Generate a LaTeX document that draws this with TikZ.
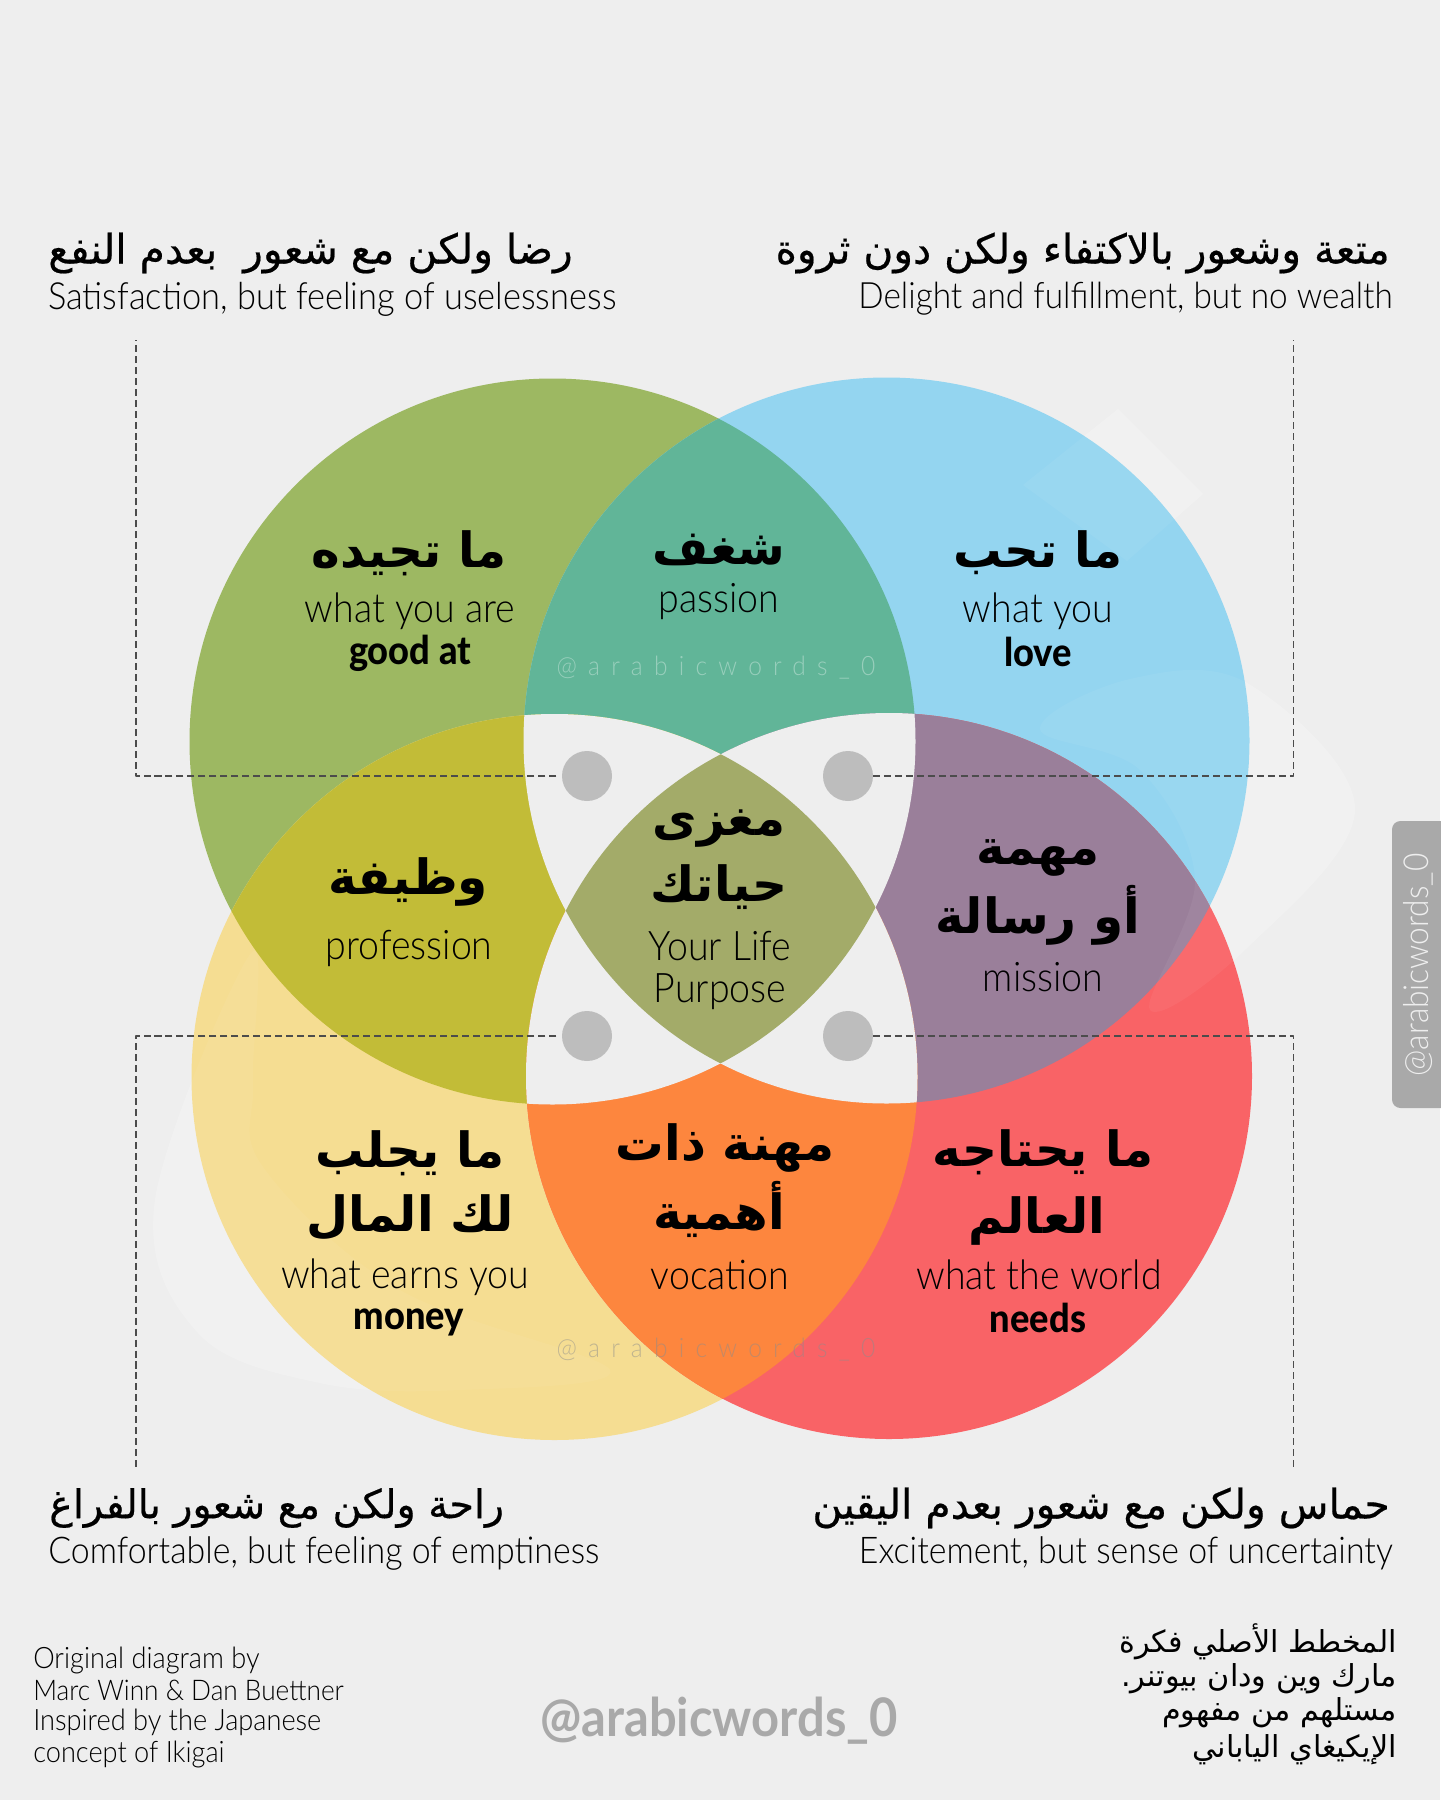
\documentclass[tikz,border=0pt]{standalone}
\usepackage{fontspec}
\setmainfont[FakeStretch=0.92]{Lato Light}
\newfontfamily\latinbold[FakeStretch=0.92]{Lato Heavy}
\newfontfamily\latinmid[FakeStretch=0.92]{Lato Bold}
\newfontfamily\arabicbold[Script=Arabic]{DejaVu Sans Bold}
\newfontfamily\arabicmid[Script=Arabic,FakeBold=0.5]{DejaVu Sans}
\newfontfamily\arabicfont[Script=Arabic]{DejaVu Sans}
\TeXXeTstate=1
\newcommand{\AR}[1]{\beginR #1\endR}
\definecolor{bgcol}{HTML}{EEEEEE}
\definecolor{goodcol}{HTML}{9DB862}
\definecolor{lovecol}{HTML}{94D5F0}
\definecolor{moneycol}{HTML}{F5DD92}
\definecolor{needscol}{HTML}{F96366}
\definecolor{passioncol}{HTML}{61B598}
\definecolor{professioncol}{HTML}{C2BC37}
\definecolor{missioncol}{HTML}{9A7F9A}
\definecolor{vocationcol}{HTML}{FD863E}
\definecolor{purposecol}{HTML}{A3AB69}
\definecolor{dotcol}{HTML}{BDBDBD}
\definecolor{tabcol}{HTML}{A9A9A9}
\newcommand{\good}{(552.5,741.5) circle [radius=363]}
\newcommand{\love}{(886.5,740.5) circle [radius=363]}
\newcommand{\earn}{(554.5,1077) circle [radius=363]}
\newcommand{\needs}{(889,1076) circle [radius=363]}
\newcommand{\paleshapes}[1]{
	\fill[white,fill opacity=#1] (1118,409) -- (1203,494) -- (1127,561) -- (1023,485) -- cycle;
	\fill[white,fill opacity=#1] plot[smooth cycle,tension=0.6] coordinates {(1040,729) (1130,679) (1247,683) (1355,809) (1247,948) (1150,1010) (1195,880) (1140,770)};
	\fill[white,fill opacity=#1] plot[smooth cycle,tension=0.6] coordinates {(251,953) (155,1200) (198,1333) (320,1383) (459,1390) (610,1370) (400,1290) (263,1167) (253,1083)};
}
\tikzset{
	headar/.style={font=\arabicbold\fontsize{34.5}{34.5}\selectfont,inner sep=0pt},
	capar/.style={font=\arabicmid\fontsize{29}{29}\selectfont,inner sep=0pt},
	capen/.style={font=\fontsize{26.6}{26.6}\selectfont,inner sep=0pt},
	labelen/.style={font=\fontsize{29}{29}\selectfont,inner sep=0pt},
	labelbf/.style={font=\latinbold\fontsize{28}{28}\selectfont,inner sep=0pt},
	footen/.style={font=\fontsize{21}{21}\selectfont,inner sep=0pt,anchor=west},
	footar/.style={font=\arabicfont\fontsize{21.5}{21.5}\selectfont,inner sep=0pt,anchor=east},
	stamp/.style={font=\addfontfeature{LetterSpace=42}\fontsize{19}{19}\selectfont,inner sep=0pt},
	dot/.style={circle,fill=dotcol,minimum size=1.25cm,inner sep=0pt,outer sep=4pt},
	leader/.style={dash pattern=on 5pt off 2.8pt,line width=1pt,draw=black!70}
}
\begin{document}
\begin{tikzpicture}[x=0.025cm,y=-0.025cm, line join=round, line cap=butt]
	\useasboundingbox (0,0) rectangle (1440,1800);
	\fill[bgcol] (0,0) rectangle (1440,1800);
	% pale calligraphy behind
	\paleshapes{0.22}
	% the four circles
	\fill[goodcol] \good;
	\fill[lovecol] \love;
	\fill[moneycol] \earn;
	\fill[needscol] \needs;
	% overlaps of two
	\begin{scope}
		\clip \good;
		\fill[passioncol] \love;
		\fill[professioncol] \earn;
	\end{scope}
	\begin{scope}
		\clip \needs;
		\fill[missioncol] \love;
		\fill[vocationcol] \earn;
	\end{scope}
	% calligraphy showing through
	\paleshapes{0.05}
	% overlaps of three
	\begin{scope}
		\clip \good;
		\clip \love;
		\fill[bgcol] \earn;
		\fill[bgcol] \needs;
	\end{scope}
	\begin{scope}
		\clip \needs;
		\clip \earn;
		\fill[bgcol] \good;
		\fill[bgcol] \love;
	\end{scope}
	% middle
	\begin{scope}
		\clip \good;
		\clip \love;
		\clip \earn;
		\fill[purposecol] \needs;
	\end{scope}
	% dots and leaders
	\node[dot] (dotTL) at (587,776) {};
	\node[dot,outer sep=0pt] (dotTR) at (848,776) {};
	\node[dot] (dotBL) at (587,1036) {};
	\node[dot,outer sep=0pt] (dotBR) at (848,1036) {};
	\coordinate (endTL) at (136,340);
	\coordinate (endTR) at (1293.5,340);
	\coordinate (endBL) at (136,1470);
	\coordinate (endBR) at (1293.5,1470);
	\draw[leader] (dotTL) -| (endTL);
	\draw[leader] (dotTR) -| (endTR);
	\draw[leader] (dotBL) -| (endBL);
	\draw[leader] (dotBR) -| (endBR);
	% corner captions
	\node[capar,anchor=west] (capTLar) at (48,253) {\AR{رضا ولكن مع شعور \ بعدم النفع}};
	\node[capen,anchor=west] (capTLen) at (48,299) {Satisfaction, but feeling of uselessness};
	\node[capar,anchor=east] (capTRar) at (1390,253) {\AR{متعة وشعور بالاكتفاء ولكن دون ثروة}};
	\node[capen,anchor=east,scale=0.97] (capTRen) at (1393,299) {Delight and fulfillment, but no wealth};
	\node[capar,anchor=west,scale=0.97] (capBLar) at (49,1508) {\AR{راحة ولكن مع شعور بالفراغ}};
	\node[capen,anchor=west,scale=0.985] (capBLen) at (48,1553) {Comfortable, but feeling of emptiness};
	\node[capar,anchor=east] (capBRar) at (1390,1508) {\AR{حماس ولكن مع شعور بعدم اليقين}};
	\node[capen,anchor=east,scale=0.985] (capBRen) at (1393,1553) {Excitement, but sense of uncertainty};
	% labels of the circles
	\node[headar] (goodar) at (409,553) {\AR{ما تجيده}};
	\node[labelen] (gooden) at (410,611) {what you are};
	\node[labelbf] (goodbf) at (410,653) {good at};
	\node[headar] (lovear) at (1038,553) {\AR{ما تحب}};
	\node[labelen] (loveen) at (1038,611) {what you};
	\node[labelbf] (lovebf) at (1038,652) {love};
	\node[headar] (earnara) at (410,1153) {\AR{ما يجلب}};
	\node[headar] (earnarb) at (410,1217) {\AR{لك المال}};
	\node[labelen] (earnen) at (405,1277) {what earns you};
	\node[labelbf] (earnbf) at (409,1322) {money};
	\node[headar] (needsara) at (1043,1152) {\AR{ما يحتاجه}};
	\node[headar] (needsarb) at (1037,1221) {\AR{العالم}};
	\node[labelen] (needsen) at (1039,1275) {what the world};
	\node[labelbf] (needsbf) at (1038,1318) {needs};
	% labels of the overlaps
	\node[headar] (passionar) at (719,550) {\AR{شغف}};
	\node[labelen] (passionen) at (719,602) {passion};
	\node[headar] (profar) at (408,882) {\AR{وظيفة}};
	\node[labelen] (profen) at (409,948) {profession};
	\node[headar] (missionara) at (1038,858) {\AR{مهمة}};
	\node[headar] (missionarb) at (1038,915) {\AR{أو رسالة}};
	\node[labelen] (missionen) at (1043,977) {mission};
	\node[headar] (vocara) at (725,1148) {\AR{مهنة ذات}};
	\node[headar] (vocarb) at (719,1209) {\AR{أهمية}};
	\node[labelen] (vocen) at (720,1275) {vocation};
	\node[headar] (purposeara) at (719,829) {\AR{مغزى}};
	\node[headar] (purposearb) at (719,887) {\AR{حياتك}};
	\node[labelen] (purposeena) at (720,946) {Your Life};
	\node[labelen] (purposeenb) at (720,992) {Purpose};
	% name stamps
	\node[stamp,text=white,text opacity=0.35] (stampA) at (716,668) {@arabicwords\_0};
	\node[stamp,text=black!45,text opacity=0.5] (stampB) at (716,1350) {@arabicwords\_0};
	\node[font=\latinmid\fontsize{37.8}{37.8}\selectfont,text=tabcol,inner sep=0pt] (stampC) at (719,1721) {@arabicwords\_0};
	\fill[tabcol,rounded corners=6] (1392,821) rectangle (1450,1108);
	\node[font=\fontsize{24.5}{24.5}\selectfont,text=bgcol,inner sep=0pt,rotate=90] (stampD) at (1418,965) {@arabicwords\_0};
	% footer
	\node[footen] (foota) at (33,1660) {Original diagram by};
	\node[footen,scale=0.965] (footb) at (33,1690) {Marc Winn \& Dan Buettner};
	\node[footen] (footc) at (33,1722) {Inspired by the Japanese};
	\node[footen] (footd) at (33,1754) {concept of Ikigai};
	\node[footar] (footara) at (1397,1642) {\AR{المخطط الأصلي فكرة}};
	\node[footar] (footarb) at (1397,1679) {\AR{مارك وين ودان بيوتنر.}};
	\node[footar] (footarc) at (1397,1713) {\AR{مستلهم من مفهوم}};
	\node[footar] (footard) at (1397,1750) {\AR{الإيكيغاي الياباني}};
\end{tikzpicture}
\end{document}
